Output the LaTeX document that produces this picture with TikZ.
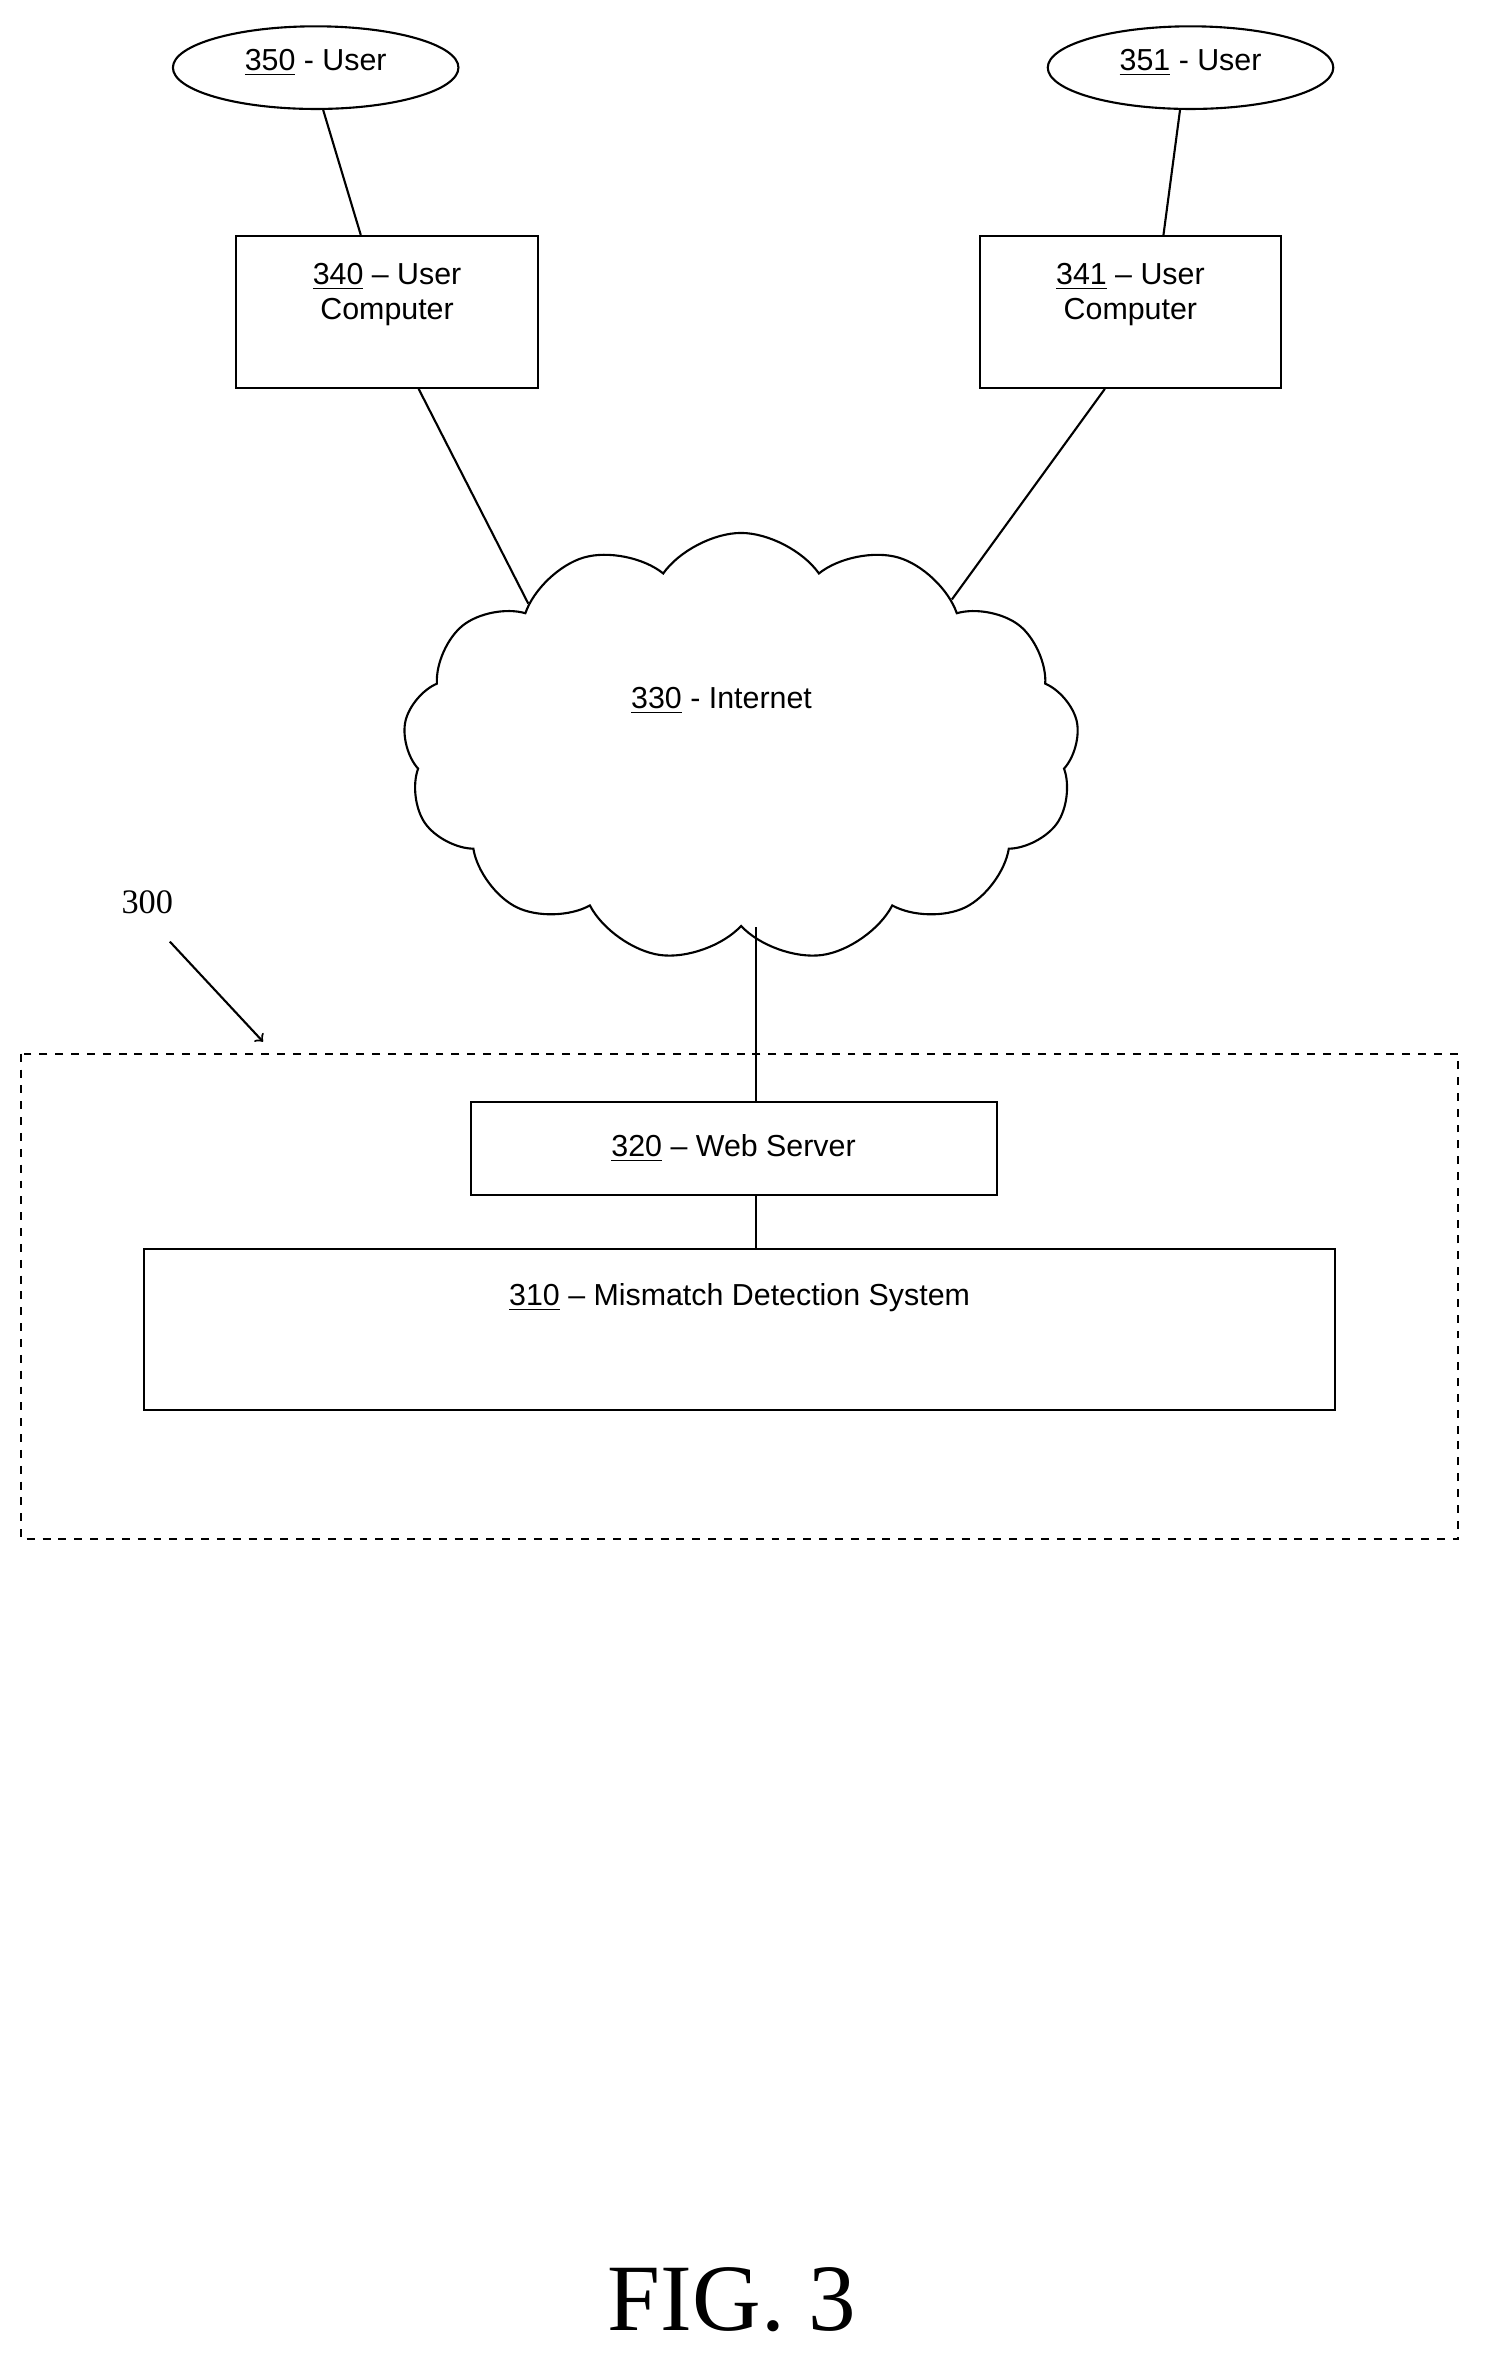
\documentclass[tikz,border=0pt]{standalone}
\usepackage{fontspec}
\setmainfont{Liberation Sans}
\newfontfamily\figfont{Liberation Serif}
\usetikzlibrary{shapes.symbols,shapes.geometric,positioning}

\begin{document}
\begin{tikzpicture}[x=0.02cm,y=-0.02cm,
        every node/.style={font=\fontsize{11.5}{13.5}\selectfont},
        box/.style={draw, thick, inner sep=0pt, align=center},
        user/.style={draw, thick, ellipse, minimum width=3.8cm, minimum height=1.1cm, inner sep=0pt},
        link/.style={thick}
    ]
    \useasboundingbox (0,0) rectangle (988,1568);

    % users and their computers
    \node[user] (u350) at (210,45) {\raisebox{1ex}{\underline{350} - User}};
    \node[user] (u351) at (792,45) {\raisebox{1ex}{\underline{351} - User}};
    \node[box, minimum width=4.02cm, minimum height=2.02cm] (c340) at (257.5,207.5) {};
    \node[below=0.25cm of c340.north, align=center] {\underline{340} -- User\\Computer};
    \node[box, minimum width=4cm, minimum height=2.02cm] (c341) at (752,207.5) {};
    \node[below=0.25cm of c341.north, align=center] {\underline{341} -- User\\Computer};

    % network
    \node[cloud, draw, thick, cloud puffs=13, cloud puff arc=110, aspect=1.5,
          minimum width=9cm, minimum height=5.7cm] (inet) at (493,497) {};
    \node at (480,466) {\underline{330} - Internet};

    % system boundary
    \draw[thick, dashed] (14,701) rectangle (970,1024);
    \node (l300) at (98,600) {\figfont\fontsize{13}{15}\selectfont 300};
    \coordinate (a300) at (175,693);
    \draw[thick, ->] ([xshift=0.3cm,yshift=-0.25cm]l300.south) -- (a300);

    \node[box, minimum width=7cm, minimum height=1.24cm] (w320) at (488,764) {\underline{320} -- Web Server};
    \node[box, minimum width=15.84cm, minimum height=2.14cm] (m310) at (492,884.5) {};
    \node[below=0.35cm of m310.north] {\underline{310} -- Mismatch Detection System};

    \draw[link] ([xshift=0.1cm]u350.south) -- ([xshift=-0.35cm]c340.north);
    \draw[link] ([xshift=-0.14cm]u351.south) -- ([xshift=0.44cm]c341.north);
    \draw[link] ([xshift=0.42cm]c340.south) -- (inet.146);
    \draw[link] ([xshift=-0.34cm]c341.south) -- (inet.35);
    \draw[link] (inet.south -| 503,0) -- (w320.north -| 503,0);
    \draw[link] (w320.south -| 503,0) -- (m310.north -| 503,0);

    \node at (487,1530) {\figfont\fontsize{36}{40}\selectfont FIG. 3};
\end{tikzpicture}
\end{document}
